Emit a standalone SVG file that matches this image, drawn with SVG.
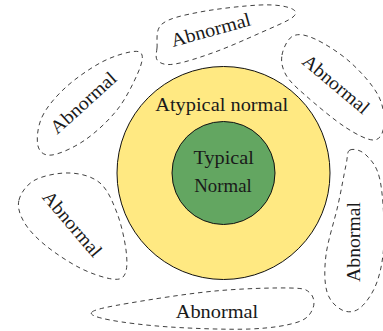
<svg xmlns="http://www.w3.org/2000/svg" width="383" height="331" viewBox="0 0 383 331">
<style>
text{font-family:"Liberation Serif","Times New Roman",serif;font-size:19px;fill:#1a1a1a;text-anchor:middle}
.blob{fill:none;stroke:#2a2a2a;stroke-width:0.9;stroke-dasharray:4.5 3.8}
.ring{stroke:#111;stroke-width:1}
</style>
<rect width="383" height="331" fill="#fff"/>
<g id="atypical">
<circle class="ring" cx="223.5" cy="173" r="106.5" fill="#FFE982"/>
<text x="221.7" y="111" textLength="133" lengthAdjust="spacingAndGlyphs">Atypical normal</text>
</g>
<g id="typical">
<circle class="ring" cx="223.5" cy="173" r="51.5" fill="#63A661"/>
<text x="223.7" y="163.5" textLength="60.5" lengthAdjust="spacingAndGlyphs">Typical</text>
<text x="223" y="192" textLength="57.5" lengthAdjust="spacingAndGlyphs">Normal</text>
</g>
<g id="abnormal-top">
<path class="blob" d="M157,48 C157.67,41.83 154.83,30 162,24 C169.17,18 183.67,15.17 200,12 C216.33,8.83 245,5.67 260,5 C275,4.33 284.5,6 290,8 C295.5,10 298,12.83 293,17 C288,21.17 273,27.17 260,33 C247,38.83 229.17,46.83 215,52 C200.83,57.17 184.5,62.5 175,64 C165.5,65.5 161,63.67 158,61 C155,58.33 156.33,54.17 157,48 Z"/>
<text transform="translate(212.5,36) rotate(-15.5)" textLength="82" lengthAdjust="spacingAndGlyphs">Abnormal</text>
</g>
<g id="abnormal-topleft">
<path class="blob" d="M42,117 C46.5,107.33 55.33,97 65,88 C74.67,79 89.17,69 100,63 C110.83,57 123,53.33 130,52 C137,50.67 140.83,51.17 142,55 C143.17,58.83 141.17,65.83 137,75 C132.83,84.17 125.67,99.17 117,110 C108.33,120.83 95.83,132.5 85,140 C74.17,147.5 59.83,154 52,155 C44.17,156 39.67,152.33 38,146 C36.33,139.67 37.5,126.67 42,117 Z"/>
<text transform="translate(87.5,107.5) rotate(-42)" textLength="82" lengthAdjust="spacingAndGlyphs">Abnormal</text>
</g>
<g id="abnormal-topright">
<path class="blob" d="M282,55 C283.17,48.5 287.5,38.67 293,36 C298.5,33.33 305.5,34.67 315,39 C324.5,43.33 339.5,52.67 350,62 C360.5,71.33 372.33,84.5 378,95 C383.67,105.5 384.67,117.5 384,125 C383.33,132.5 380.5,139.67 374,140 C367.5,140.33 356.5,134.5 345,127 C333.5,119.5 314.83,103.67 305,95 C295.17,86.33 289.83,81.67 286,75 C282.17,68.33 280.83,61.5 282,55 Z"/>
<text transform="translate(332,89) rotate(40)" textLength="81" lengthAdjust="spacingAndGlyphs">Abnormal</text>
</g>
<g id="abnormal-bottomleft">
<path class="blob" d="M19,200 C20.83,193 26.5,184.5 35,180 C43.5,175.5 59.17,172.5 70,173 C80.83,173.5 92.17,176.33 100,183 C107.83,189.67 112.67,201.83 117,213 C121.33,224.17 124.67,239.83 126,250 C127.33,260.17 127.33,269.17 125,274 C122.67,278.83 119.5,280 112,279 C104.5,278 91.17,273.67 80,268 C68.83,262.33 54.33,252.67 45,245 C35.67,237.33 28.33,229.5 24,222 C19.67,214.5 17.17,207 19,200 Z"/>
<text transform="translate(67.5,228) rotate(49.6)" textLength="80" lengthAdjust="spacingAndGlyphs">Abnormal</text>
</g>
<g id="abnormal-bottomright">
<path class="blob" d="M350,150 C353.33,148.33 361,150 366,155 C371,160 377,165.83 380,180 C383,194.17 384.5,223 384,240 C383.5,257 381,270.67 377,282 C373,293.33 365.83,303.33 360,308 C354.17,312.67 347.5,312.67 342,310 C336.5,307.33 329.67,301.17 327,292 C324.33,282.83 324.17,269.5 326,255 C327.83,240.5 334.67,220 338,205 C341.33,190 344,174.17 346,165 C348,155.83 346.67,151.67 350,150 Z"/>
<text transform="translate(360,242) rotate(-90)" textLength="80" lengthAdjust="spacingAndGlyphs">Abnormal</text>
</g>
<g id="abnormal-bottom">
<path class="blob" d="M92,312 C95.33,309.17 109.5,306.5 130,303 C150.5,299.5 188.33,293.5 215,291 C241.67,288.5 274.17,287.67 290,288 C305.83,288.33 306.17,289.67 310,293 C313.83,296.33 315,303.17 313,308 C311,312.83 308.5,318.5 298,322 C287.5,325.5 271.33,328.17 250,329 C228.67,329.83 193.33,328.5 170,327 C146.67,325.5 123,322.5 110,320 C97,317.5 88.67,314.83 92,312 Z"/>
<text x="217" y="318.3" textLength="82.6" lengthAdjust="spacingAndGlyphs">Abnormal</text>
</g>
<g id="connectors"></g>
</svg>
